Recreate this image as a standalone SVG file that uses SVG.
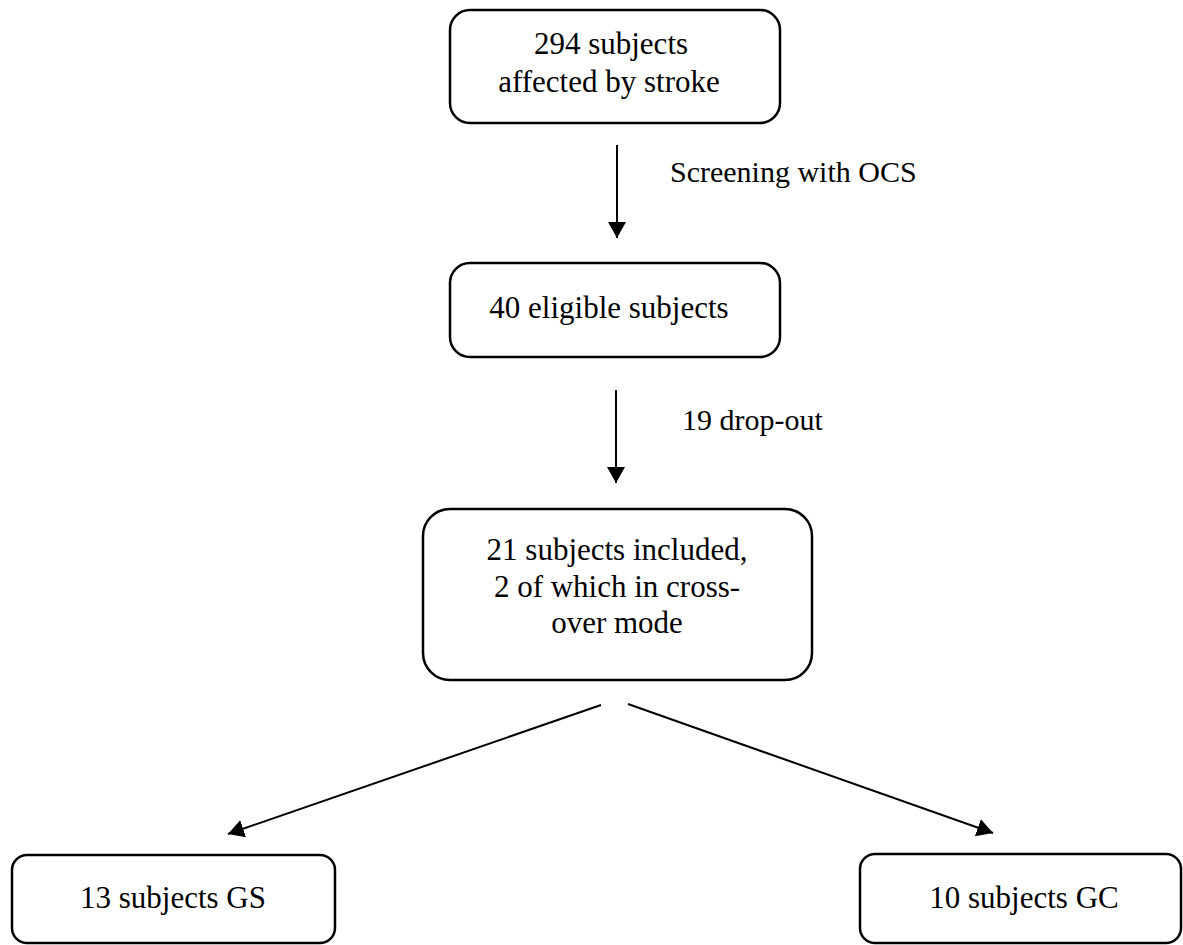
<svg xmlns="http://www.w3.org/2000/svg" width="1183" height="945" viewBox="0 0 1183 945">
<style>
.box{fill:#fff;stroke:#000;stroke-width:2.5}
.t{font-family:"Liberation Serif","Times New Roman",serif;font-size:31px;fill:#000;text-anchor:middle}
.l{font-family:"Liberation Serif","Times New Roman",serif;font-size:30px;fill:#000}
.c{stroke:#000;stroke-width:2;fill:none;marker-end:url(#ah)}
</style>
<defs>
<marker id="ah" markerUnits="userSpaceOnUse" markerWidth="17" markerHeight="19" refX="16" refY="9" orient="auto">
<path d="M0,0 L16,9 L0,18 Z" fill="#000"/>
</marker>
</defs>
<rect width="1183" height="945" fill="#fff"/>
<g id="n1"><rect class="box" x="450" y="10" width="330" height="113" rx="20"/><text class="t" x="611" y="54">294 subjects</text><text class="t" x="609" y="92">affected by stroke</text></g>
<g id="n2"><rect class="box" x="450" y="263" width="330" height="94" rx="20"/><text class="t" x="609" y="318">40 eligible subjects</text></g>
<g id="n3"><rect class="box" x="423" y="509" width="389" height="171" rx="27"/><text class="t" x="617" y="560">21 subjects included,</text><text class="t" x="617" y="597">2 of which in cross-</text><text class="t" x="617" y="633">over mode</text></g>
<g id="n4"><rect class="box" x="12" y="855" width="323" height="88" rx="15"/><text class="t" x="173" y="908">13 subjects GS</text></g>
<g id="n5"><rect class="box" x="860" y="854" width="321" height="89" rx="15"/><text class="t" x="1024" y="908">10 subjects GC</text></g>
<g id="connectors">
<line class="c" x1="617" y1="145" x2="617" y2="238"/>
<line class="c" x1="616" y1="390" x2="616" y2="483"/>
<line class="c" x1="601" y1="705" x2="228" y2="834"/>
<line class="c" x1="628" y1="704" x2="993" y2="833"/>
<text class="l" x="670" y="182">Screening with OCS</text>
<text class="l" x="682" y="430">19 drop-out</text>
</g>
</svg>
